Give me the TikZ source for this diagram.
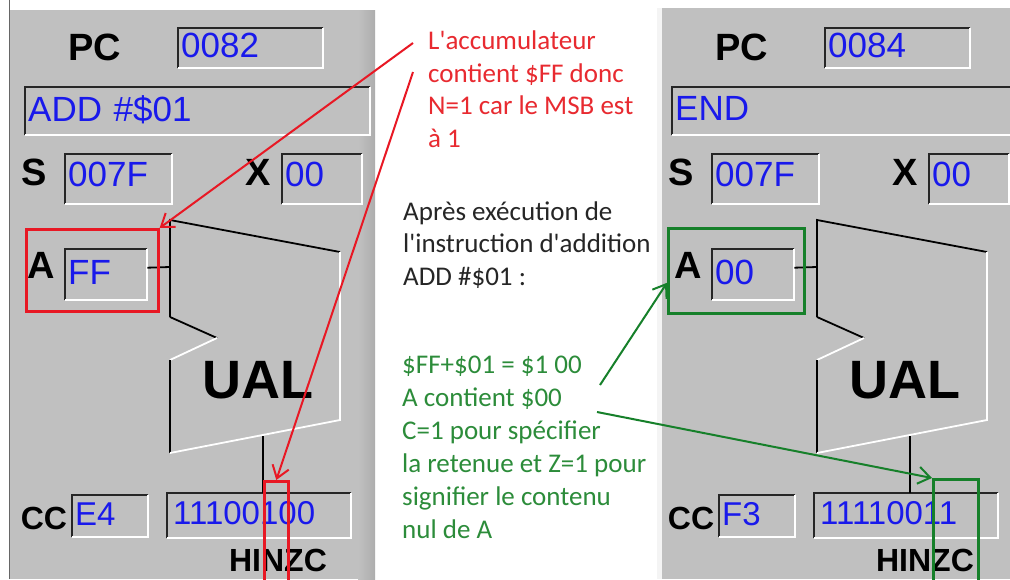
\documentclass[tikz,border=0pt]{standalone}
\usepackage{fontspec}
\setmainfont{Liberation Sans}
\newfontfamily\calib{Carlito}
\usepackage{tikz}
\usetikzlibrary{arrows.meta,positioning,calc}

\definecolor{panelgray}{RGB}{192,192,192}
\definecolor{valblue}{RGB}{25,25,235}
\definecolor{hlred}{RGB}{232,24,36}
\definecolor{hlgreen}{RGB}{22,128,42}
\definecolor{txtred}{RGB}{232,42,48}
\definecolor{txtgreen}{RGB}{44,140,58}

\begin{document}
\begin{tikzpicture}[x=1pt,y=-1pt,>={Straight Barb[length=12pt,width=17pt]},
  reg/.style={fill=panelgray,text=valblue,anchor=north west,inner xsep=3pt,inner ysep=0pt,
    align=left,text depth=5pt,font=\fontsize{35}{36}\selectfont},
  lbl/.style={font=\bfseries\fontsize{38}{40}\selectfont,inner sep=0pt},
  note/.style={font=\calib\fontsize{27}{32.5}\selectfont,align=left,anchor=base west,inner sep=0pt},
  hl/.style={draw=#1,line width=2.6pt,anchor=north west,inner sep=0pt},
  wire/.style={line width=1.8pt},
  link/.style={line width=2pt}]
  \useasboundingbox (0,0) rectangle (1010,579);
  \clip (0,0) rectangle (1010,579);
  \fill[white] (0,0) rectangle (1010,579);

  % the two simulator windows
  \fill[panelgray] (10,10) rectangle (375,579);
  \shade[left color=panelgray,right color=black!32] (358,10) rectangle (375,579);
  \draw[black!60,line width=1pt] (9,0) -- (9,579);
  \fill[panelgray] (657,8) rectangle (1010,579);
  \fill[white!82!panelgray] (657,8) rectangle (662,579);

  \foreach \dx/\p/\pc/\ins/\acc/\ccv/\bits in
      {0/l/0082/{ADD \#\$01}/FF/E4/11100100, 647/r/0084/END/00/F3/11110011}{
    % registers
    \node[reg,text width=139pt,minimum height=40pt] (pc\p) at (178+\dx,28) {\pc};
    \node[reg,text width=339pt,minimum height=48pt] (ins\p) at (25+\dx,87) {\ins};
    \node[reg,text width=101pt,minimum height=50pt,text depth=10pt] (s\p) at (65+\dx,154) {007F};
    \node[reg,text width=74pt,minimum height=50pt,text depth=10pt] (x\p) at (282+\dx,154) {00};
    \node[reg,text width=76pt,minimum height=51pt] (a\p) at (65+\dx,249) {\acc};
    \node[reg,text width=70pt,minimum height=42pt,font=\fontsize{33}{34}\selectfont]
      (cc\p) at (72+\dx,495) {\ccv};
    \node[reg,text width=172pt,minimum height=45pt,inner xsep=6pt,font=\fontsize{33}{34}\selectfont]
      (bits\p) at (167+\dx,493) {\bits};
    \foreach \b in {pc,ins,s,x,a,cc,bits}{
      \draw[line width=2pt,black!85] (\b\p.south west) |- (\b\p.north east);
      \draw[line width=2pt,white] (\b\p.north east) |- (\b\p.south west);
    }
    % labels
    \node[lbl] (pclbl\p) at (95+\dx,47) {PC};
    \node[lbl] (slbl\p) at (34+\dx,172) {S};
    \node[lbl] (xlbl\p) at (258+\dx,172) {X};
    \node[lbl] (albl\p) at (41+\dx,265) {A};
    \node[lbl,font=\bfseries\fontsize{32}{34}\selectfont] (cclbl\p) at (44+\dx,518) {CC};
    \node[lbl,font=\bfseries\fontsize{32}{34}\selectfont] (flags\p) at (278+\dx,560) {HINZC};
    \node[lbl,font=\bfseries\fontsize{54}{56}\selectfont] (ual\p) at (258+\dx,380) {UAL};
    % UAL outline
    \draw[wire] (170+\dx,317) -- (170+\dx,220) -- (340+\dx,252);
    \draw[wire] (170+\dx,317) -- (217+\dx,338);
    \draw[wire,white] (217+\dx,338) -- (170+\dx,360);
    \draw[wire] (170+\dx,360) -- (170+\dx,453);
    \draw[wire,white] (170+\dx,453) -- (340+\dx,420) -- (340+\dx,252);
    \coordinate (aluin\p) at (170+\dx,267);
    \coordinate (aluout\p) at (263+\dx,436);
    \draw[wire] ([yshift=7pt]a\p.east) -- (aluin\p);
    \draw[wire] (aluout\p) -- (aluout\p |- bits\p.north);
  }

  % highlights
  \node[hl=hlred,minimum width=132pt,minimum height=82pt] (hlAl) at (25,228) {};
  \node[hl=hlred,minimum width=24pt,minimum height=110pt] (hlCl) at (263,480) {};
  \node[hl=hlgreen,minimum width=136pt,minimum height=85pt] (hlAr) at (667,227) {};
  \node[hl=hlgreen,minimum width=45pt,minimum height=110pt] (hlCr) at (932,478) {};

  % comments (base = last line)
  \node[note,text=txtred] (rednote) at (428,147)
    {L'accumulateur\\contient \$FF donc\\N=1 car le MSB est\\à 1};
  \node[note,text=black!85] (mainnote) at (403,285)
    {Après exécution de\\l'instruction d'addition\\ADD \#\$01 :};
  \node[note,text=txtgreen,font=\calib\fontsize{27}{33}\selectfont] (greennote) at (402,538)
    {\$FF+\$01 = \$1 00\\A contient \$00\\C=1 pour spécifier\\la retenue et Z=1 pour\\signifier le contenu\\nul de A};

  \coordinate (r1) at (413,43);
  \coordinate (r2) at (413,72);
  \coordinate (g1) at (600,385);
  \coordinate (g2) at (597,412);
  \draw[link,hlred,->] (r1) -- (hlAl.north east);
  \draw[link,hlred,->] (r2) -- (hlCl.north);
  \draw[link,hlgreen,->] (g1) -- ([yshift=-12pt]hlAr.west);
  \draw[link,hlgreen,->] (g2) -- (hlCr.north west);
\end{tikzpicture}
\end{document}
